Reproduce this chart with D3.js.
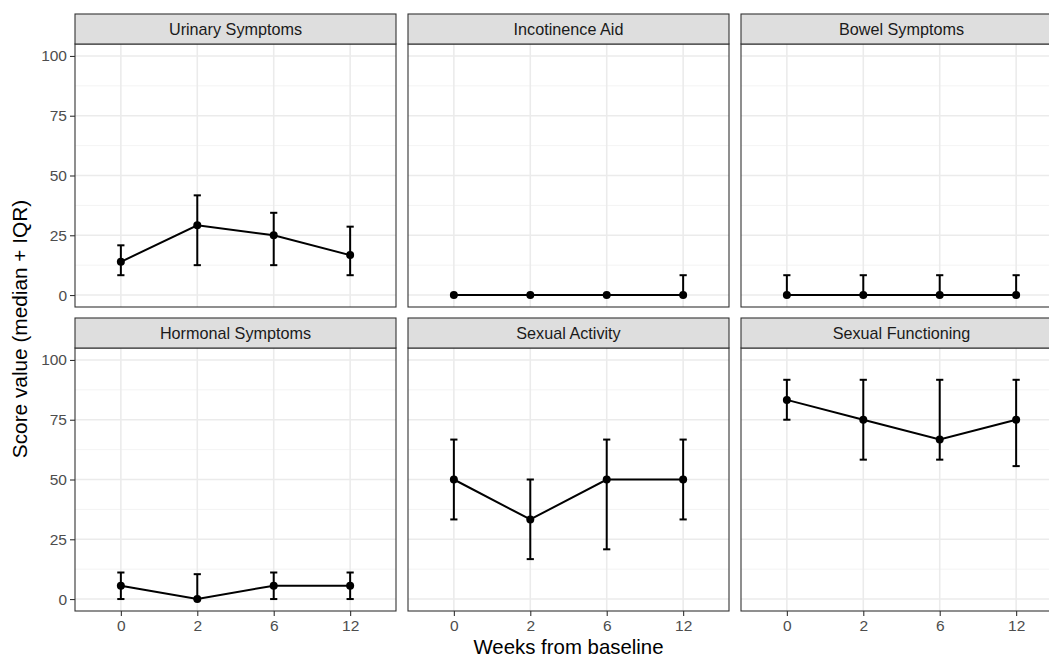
<!DOCTYPE html>
<html>
<head>
<meta charset="utf-8">
<script src="https://cdn.jsdelivr.net/npm/d3@7"></script>
<style>
  body { margin: 0; background: #fff; }
  svg { display: block; font-family: "Liberation Sans", Arial, sans-serif; }
</style>
</head>
<body>
<svg id="chart"></svg>
<script>
const weeks = ['0', '2', '6', '12']
const facets = ['Urinary Symptoms', 'Incotinence Aid', 'Bowel Symptoms',
                'Hormonal Symptoms', 'Sexual Activity', 'Sexual Functioning']
const medians = [[13.9, 29.2, 25, 16.7], [0, 0, 0, 0], [0, 0, 0, 0],
                 [5.6, 0, 5.6, 5.6], [50, 33.3, 50, 50], [83.3, 75, 66.7, 75]]
const lower = [[8.3, 12.5, 12.5, 8.3], [0, 0, 0, 0], [0, 0, 0, 0],
               [0, 0, 0, 0], [33.3, 16.7, 20.8, 33.3], [75, 58.3, 58.3, 55.6]]
const upper = [[20.8, 41.7, 34.4, 28.6], [0, 0, 0, 8.3], [8.3, 8.3, 8.3, 8.3],
               [11.1, 10.4, 11.1, 11.1], [66.7, 50, 66.7, 66.7], [91.7, 91.7, 91.7, 91.7]]
const yTicks = [0, 25, 50, 75, 100]
const yMinor = [12.5, 37.5, 62.5, 87.5]

const svgWidth = 1049
const svgHeight = 659
const marginLeft = 75
const marginTop = 14
const panelW = 321
const panelH = 263
const stripH = 30
const colStep = 333
const rowStep = 304

const svg = d3.select('#chart').attr('width', svgWidth).attr('height', svgHeight)
svg.append('rect').attr('width', svgWidth).attr('height', svgHeight).attr('fill', '#fff')

const x = d3.scalePoint().domain(weeks).range([0, panelW]).padding(0.6)
const y = d3.scaleLinear().domain([-5, 105]).range([panelH, 0])

const line = d3.line()
  .x(d => x(d.week))
  .y(d => y(d.median))

facets.forEach((name, i) => {
  const col = i % 3
  const row = Math.floor(i / 3)
  const px = marginLeft + col * colStep
  const py = marginTop + row * rowStep + stripH

  const data = weeks.map((w, j) => ({week: w, median: medians[i][j], lo: lower[i][j], hi: upper[i][j]}))

  const g = svg.append('g').attr('transform', `translate(${px},${py})`)

  // grid
  g.selectAll('.minor').data(yMinor).enter().append('line')
    .attr('x1', 0).attr('x2', panelW)
    .attr('y1', d => y(d)).attr('y2', d => y(d))
    .attr('stroke', '#f2f2f2').attr('stroke-width', 0.9)
  g.selectAll('.major').data(yTicks).enter().append('line')
    .attr('x1', 0).attr('x2', panelW)
    .attr('y1', d => y(d)).attr('y2', d => y(d))
    .attr('stroke', '#ebebeb').attr('stroke-width', 1.6)
  g.selectAll('.vmajor').data(weeks).enter().append('line')
    .attr('x1', d => x(d)).attr('x2', d => x(d))
    .attr('y1', 0).attr('y2', panelH)
    .attr('stroke', '#ebebeb').attr('stroke-width', 1.6)

  // error bars
  const cap = 3.6
  const eb = g.selectAll('.eb').data(data).enter().append('g')
    .attr('stroke', '#000').attr('stroke-width', 2)
  eb.append('line')
    .attr('x1', d => x(d.week)).attr('x2', d => x(d.week))
    .attr('y1', d => y(d.lo)).attr('y2', d => y(d.hi))
  eb.append('line')
    .attr('x1', d => x(d.week) - cap).attr('x2', d => x(d.week) + cap)
    .attr('y1', d => y(d.hi)).attr('y2', d => y(d.hi))
  eb.append('line')
    .attr('x1', d => x(d.week) - cap).attr('x2', d => x(d.week) + cap)
    .attr('y1', d => y(d.lo)).attr('y2', d => y(d.lo))

  g.append('path').datum(data)
    .attr('d', line)
    .attr('fill', 'none').attr('stroke', '#000').attr('stroke-width', 2)

  g.selectAll('.pt').data(data).enter().append('circle')
    .attr('cx', d => x(d.week)).attr('cy', d => y(d.median))
    .attr('r', 4).attr('fill', '#000')

  // panel border
  g.append('rect').attr('width', panelW).attr('height', panelH)
    .attr('fill', 'none').attr('stroke', '#333').attr('stroke-width', 1.1)

  // strip
  svg.append('rect')
    .attr('x', px).attr('y', py - stripH)
    .attr('width', panelW).attr('height', stripH)
    .attr('fill', '#dedede').attr('stroke', '#333').attr('stroke-width', 1.1)
  svg.append('text')
    .attr('x', px + panelW / 2).attr('y', py - stripH / 2)
    .attr('dy', '0.35em').attr('text-anchor', 'middle')
    .attr('font-size', 16.2).attr('fill', '#1a1a1a')
    .text(name)

  // axes
  if (col === 0) {
    const ya = g.append('g').call(d3.axisLeft(y).tickValues(yTicks).tickSize(5).tickPadding(3))
    ya.select('.domain').remove()
    ya.selectAll('line').attr('stroke', '#333').attr('stroke-width', 1.1)
    ya.selectAll('text').attr('font-size', 15.5).attr('fill', '#4d4d4d')
      .attr('font-family', '"Liberation Sans", Arial, sans-serif')
  }
  if (row === 1) {
    const xa = g.append('g').attr('transform', `translate(0,${panelH})`)
      .call(d3.axisBottom(x).tickSize(5).tickPadding(4))
    xa.select('.domain').remove()
    xa.selectAll('line').attr('stroke', '#333').attr('stroke-width', 1.1)
    xa.selectAll('text').attr('font-size', 15.5).attr('fill', '#4d4d4d')
      .attr('font-family', '"Liberation Sans", Arial, sans-serif')
  }
})

// axis titles
svg.append('text')
  .attr('x', marginLeft + (2 * colStep + panelW) / 2).attr('y', 654)
  .attr('text-anchor', 'middle').attr('font-size', 20.4).attr('fill', '#000')
  .text('Weeks from baseline')
svg.append('text')
  .attr('transform', `translate(27,329) rotate(-90)`)
  .attr('text-anchor', 'middle').attr('font-size', 20.8).attr('fill', '#000')
  .text('Score value (median + IQR)')
</script>
</body>
</html>
